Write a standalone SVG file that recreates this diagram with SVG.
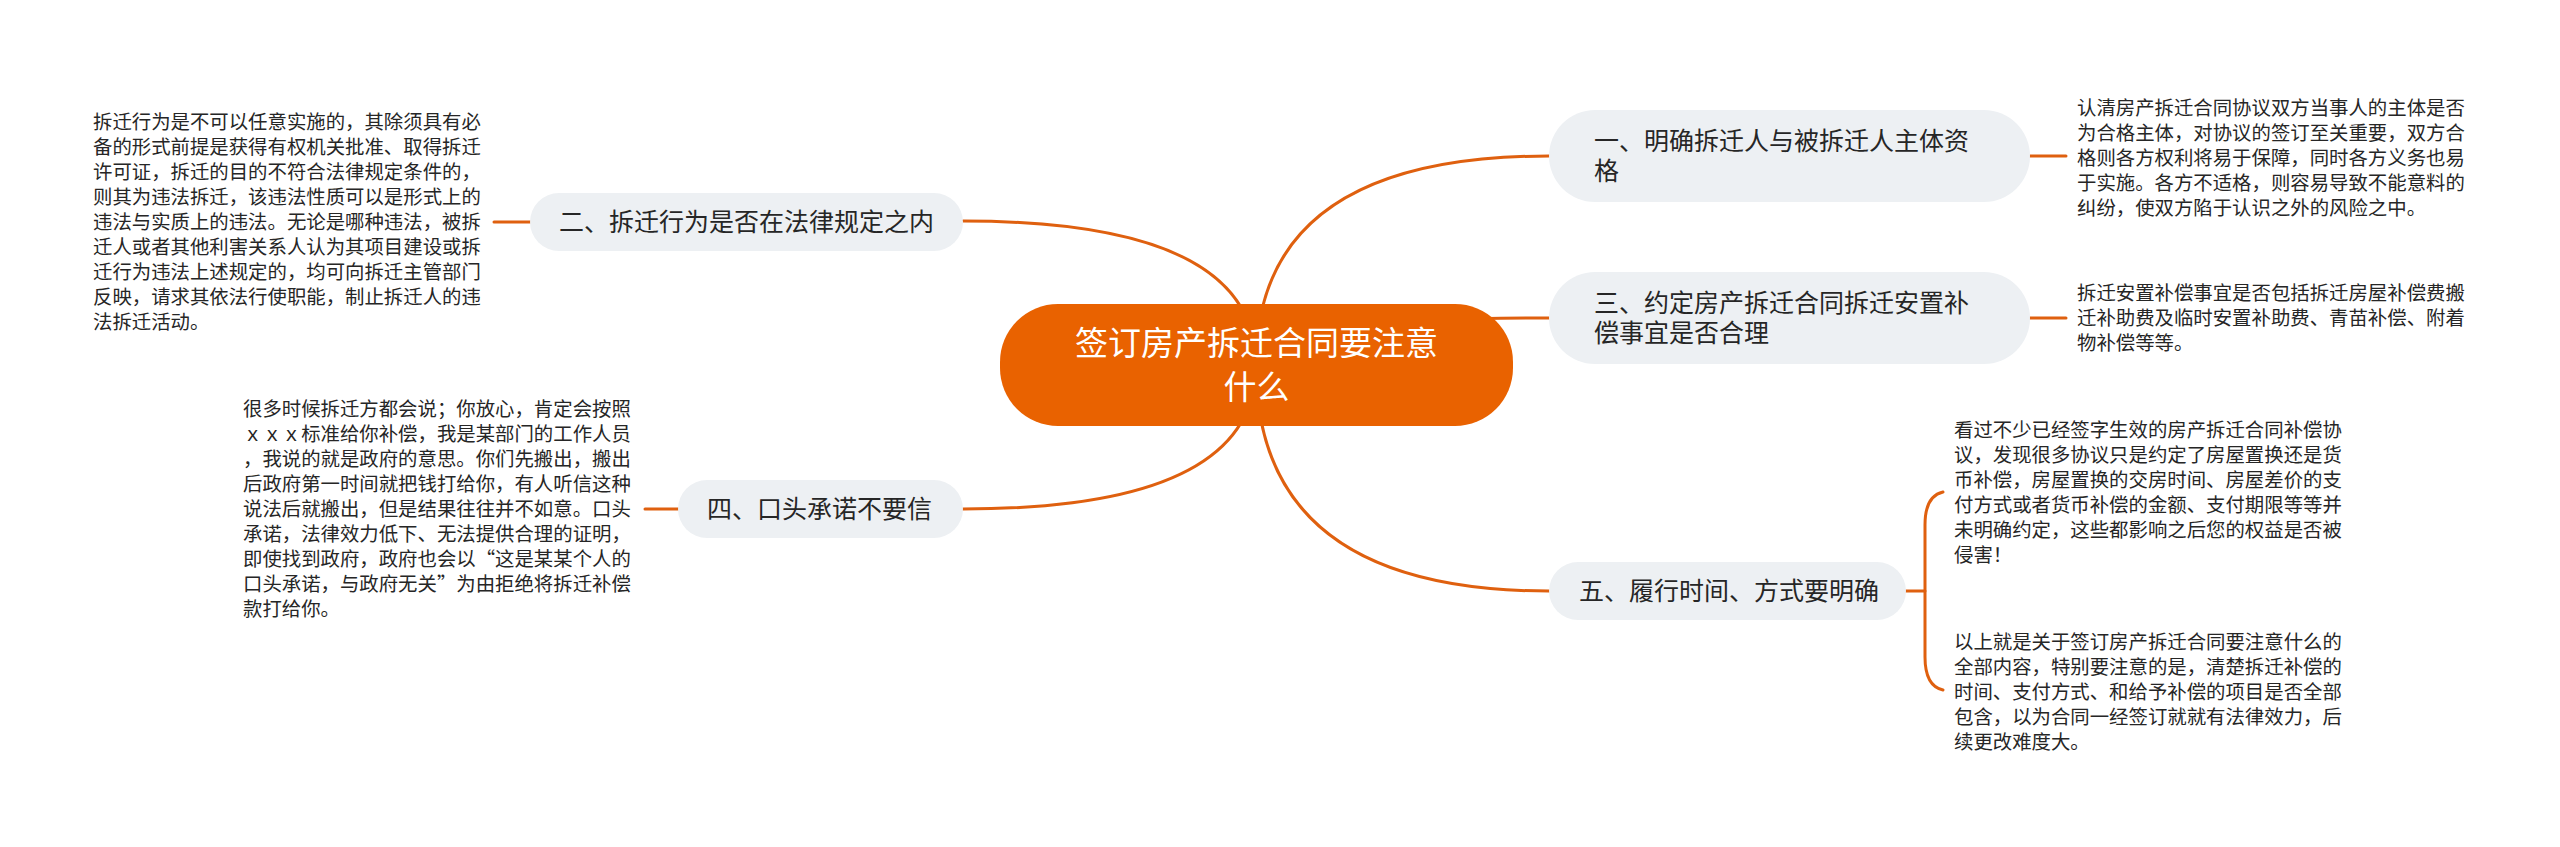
<svg xmlns="http://www.w3.org/2000/svg" width="2560" height="847" viewBox="0 0 2560 847">
<style>
.bg{fill:#ffffff}
.link{fill:none;stroke:#DF600F;stroke-width:3;stroke-linecap:round}
.root{fill:#E96200}
.topic{fill:#EDF0F3}
.rt{font-family:"Liberation Sans","Noto Sans CJK SC",sans-serif;font-size:33px;fill:#ffffff;text-anchor:middle}
.tt{font-family:"Liberation Sans","Noto Sans CJK SC",sans-serif;font-size:25px;fill:#262626}
.lt{font-family:"Liberation Sans","Noto Sans CJK SC",sans-serif;font-size:19.4px;fill:#262626}
.q{font-family:"Noto Sans CJK SC",sans-serif}
</style>
<rect class="bg" x="0" y="0" width="2560" height="847"/>
<g id="connectors">
<path class="link" d="M1256,365 Q1256,156 1549,156"/>
<path class="link" d="M1256,365 Q1256,318 1549,318"/>
<path class="link" d="M1256,365 Q1256,591 1549,591"/>
<path class="link" d="M1256,365 Q1256,221 963,221"/>
<path class="link" d="M1256,365 Q1256,509 963,509"/>
<path class="link" d="M2030,156 L2066,156"/>
<path class="link" d="M2030,318 L2066,318"/>
<path class="link" d="M530,222 L494,222"/>
<path class="link" d="M678,509 L645,509"/>
<path class="link" d="M1906,591 L1925,591"/>
<path class="link" d="M1943,492 Q1925,496 1925,525 L1925,657 Q1925,686 1943,690"/>
</g>
<g id="root">
<rect class="root" x="1000" y="304" width="513" height="122" rx="58" ry="58"/>
<text class="rt" x="1256.5" y="355">签订房产拆迁合同要注意</text>
<text class="rt" x="1256.5" y="399">什么</text>
</g>
<g id="node-1">
<rect class="topic" x="1549" y="110" width="481" height="92" rx="46" ry="46"/>
<text class="tt" x="1594" y="150">一、明确拆迁人与被拆迁人主体资</text>
<text class="tt" x="1594" y="180">格</text>
</g>
<g id="node-1-text">
<text class="lt" x="2077" y="115">认清房产拆迁合同协议双方当事人的主体是否</text>
<text class="lt" x="2077" y="140">为合格主体，对协议的签订至关重要，双方合</text>
<text class="lt" x="2077" y="165">格则各方权利将易于保障，同时各方义务也易</text>
<text class="lt" x="2077" y="190">于实施。各方不适格，则容易导致不能意料的</text>
<text class="lt" x="2077" y="215">纠纷，使双方陷于认识之外的风险之中。</text>
</g>
<g id="node-3">
<rect class="topic" x="1549" y="272" width="481" height="92" rx="46" ry="46"/>
<text class="tt" x="1594" y="312">三、约定房产拆迁合同拆迁安置补</text>
<text class="tt" x="1594" y="342">偿事宜是否合理</text>
</g>
<g id="node-3-text">
<text class="lt" x="2077" y="300">拆迁安置补偿事宜是否包括拆迁房屋补偿费搬</text>
<text class="lt" x="2077" y="325">迁补助费及临时安置补助费、青苗补偿、附着</text>
<text class="lt" x="2077" y="350">物补偿等等。</text>
</g>
<g id="node-5">
<rect class="topic" x="1549" y="562" width="357" height="58" rx="29" ry="29"/>
<text class="tt" x="1579" y="600">五、履行时间、方式要明确</text>
</g>
<g id="node-5-text-a">
<text class="lt" x="1954" y="437">看过不少已经签字生效的房产拆迁合同补偿协</text>
<text class="lt" x="1954" y="462">议，发现很多协议只是约定了房屋置换还是货</text>
<text class="lt" x="1954" y="487">币补偿，房屋置换的交房时间、房屋差价的支</text>
<text class="lt" x="1954" y="512">付方式或者货币补偿的金额、支付期限等等并</text>
<text class="lt" x="1954" y="537">未明确约定，这些都影响之后您的权益是否被</text>
<text class="lt" x="1954" y="562">侵害！</text>
</g>
<g id="node-5-text-b">
<text class="lt" x="1954" y="649">以上就是关于签订房产拆迁合同要注意什么的</text>
<text class="lt" x="1954" y="674">全部内容，特别要注意的是，清楚拆迁补偿的</text>
<text class="lt" x="1954" y="699">时间、支付方式、和给予补偿的项目是否全部</text>
<text class="lt" x="1954" y="724">包含，以为合同一经签订就就有法律效力，后</text>
<text class="lt" x="1954" y="749">续更改难度大。</text>
</g>
<g id="node-2">
<rect class="topic" x="530" y="193" width="433" height="58" rx="29" ry="29"/>
<text class="tt" x="559" y="231">二、拆迁行为是否在法律规定之内</text>
</g>
<g id="node-2-text">
<text class="lt" x="93" y="129">拆迁行为是不可以任意实施的，其除须具有必</text>
<text class="lt" x="93" y="154">备的形式前提是获得有权机关批准、取得拆迁</text>
<text class="lt" x="93" y="179">许可证，拆迁的目的不符合法律规定条件的，</text>
<text class="lt" x="93" y="204">则其为违法拆迁，该违法性质可以是形式上的</text>
<text class="lt" x="93" y="229">违法与实质上的违法。无论是哪种违法，被拆</text>
<text class="lt" x="93" y="254">迁人或者其他利害关系人认为其项目建设或拆</text>
<text class="lt" x="93" y="279">迁行为违法上述规定的，均可向拆迁主管部门</text>
<text class="lt" x="93" y="304">反映，请求其依法行使职能，制止拆迁人的违</text>
<text class="lt" x="93" y="329">法拆迁活动。</text>
</g>
<g id="node-4">
<rect class="topic" x="678" y="480" width="285" height="58" rx="29" ry="29"/>
<text class="tt" x="707" y="518">四、口头承诺不要信</text>
</g>
<g id="node-4-text">
<text class="lt" x="243" y="416">很多时候拆迁方都会说；你放心，肯定会按照</text>
<text class="lt" x="243" y="441">ｘｘｘ标准给你补偿，我是某部门的工作人员</text>
<text class="lt" x="243" y="466">，我说的就是政府的意思。你们先搬出，搬出</text>
<text class="lt" x="243" y="491">后政府第一时间就把钱打给你，有人听信这种</text>
<text class="lt" x="243" y="516">说法后就搬出，但是结果往往并不如意。口头</text>
<text class="lt" x="243" y="541">承诺，法律效力低下、无法提供合理的证明，</text>
<text class="lt" x="243" y="566">即使找到政府，政府也会以<tspan class="q">“</tspan>这是某某个人的</text>
<text class="lt" x="243" y="591">口头承诺，与政府无关<tspan class="q">”</tspan>为由拒绝将拆迁补偿</text>
<text class="lt" x="243" y="616">款打给你。</text>
</g>
</svg>
